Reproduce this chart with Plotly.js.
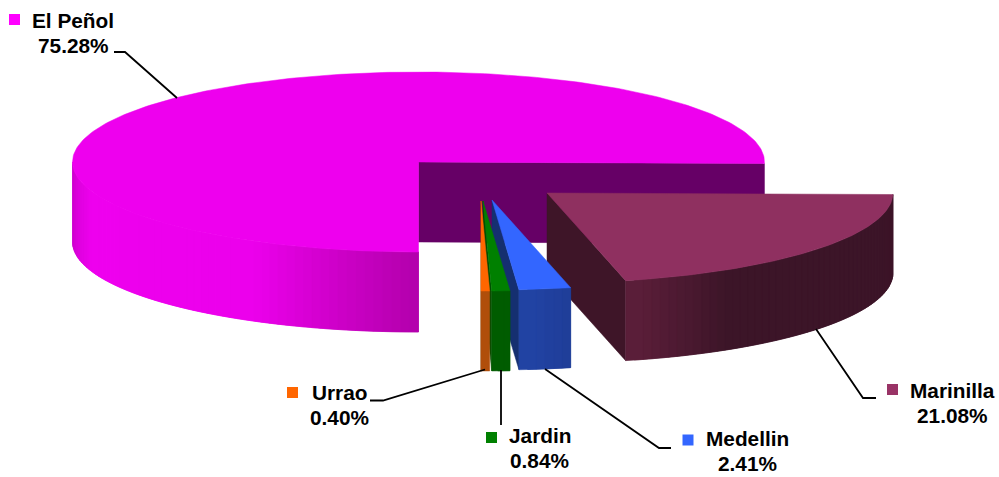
<!DOCTYPE html>
<html><head><meta charset="utf-8">
<script src="https://cdn.plot.ly/plotly-3.0.1.min.js"></script>
<style>html,body{margin:0;padding:0;background:#fff}#c{width:999px;height:477px}</style>
</head><body><div id="c"></div>
<script>
var labels = ["El Peñol", "Marinilla", "Medellin", "Jardin", "Urrao"];
var values = [75.28, 21.08, 2.41, 0.84, 0.40];
var topColors = ["#EE00EE", "#8F3060", "#3366FF", "#008000", "#FF6600"];
var keyColors = ["#FF00FF", "#993366", "#3366FF", "#008000", "#FF6600"];
var faceColors = ["#660066", "#3E1528", "#152F70", "#004A00", "#7A3800"];
// side shading: [clockwise degrees from east, r,g,b] stops
var sideStops = [
  [[90,[176,0,168]],[105,[205,0,200]],[120,[236,0,236]],[162,[238,0,238]],[180,[205,0,205]]],
  [[0,[60,21,40]],[60,[60,21,40]],[77,[92,30,58]]],
  [[77,[30,60,150]],[86,[34,68,165]]],
  [[85,[0,92,0]],[89,[0,92,0]]],
  [[88,[176,78,10]],[90,[176,78,10]]]
];
var centers = [[418.5,162],[547,193],[492,200],[483,201],[481,201]];
var RX = 346, RY = 90, DEPTH = 80;

// label layout
var keyPos = [[14.5,19.5],[892.5,389.5],[688,440],[491.5,437.5],[292.5,392.5]];
var textPos = [[73,20],[952.5,390],[747,438],[539.5,435],[339.5,392]];
var lineGap = 25;
var leaders = [
  [[114,52],[125,52],[177,98]],
  [[816,329],[863,398],[876,398]],
  [[545,369],[659,448],[671,448]],
  [[501,370],[501,425]],
  [[485,369.5],[383,400.5],[370,400.5]]
];

var DEG = Math.PI/180;
function pt(c,a,d){return [c[0]+RX*Math.cos(a*DEG), c[1]+RY*Math.sin(a*DEG)+(d||0)];}
function arc(c,a0,a1,d){var n=Math.max(2,Math.ceil(Math.abs(a1-a0)/1)),o=[];
  for(var i=0;i<=n;i++)o.push(pt(c,a0+(a1-a0)*i/n,d));return o;}
function shade(st,a){
  if(a<=st[0][0])return st[0][1];
  for(var i=1;i<st.length;i++)if(a<=st[i][0]){var t=(a-st[i-1][0])/(st[i][0]-st[i-1][0]);
    return st[i-1][1].map(function(v,k){return v+(st[i][1][k]-v)*t;});}
  return st[st.length-1][1];
}
function rgb(c){return "rgb("+c.map(Math.round).join(",")+")";}
function poly(points,color){
  return {type:"scatter",mode:"lines",x:points.map(function(p){return p[0];}).concat([points[0][0]]),
    y:points.map(function(p){return p[1];}).concat([points[0][1]]),fill:"toself",fillcolor:color,
    line:{color:color,width:0.5},hoverinfo:"skip",showlegend:false};
}
// outer wall built from thin overlapping strips so that no seams show
function wall(i,c,from,to){
  var step=(to-from)/Math.max(1,Math.ceil((to-from)/1.5));
  for(var s=from;s<to-1e-6;s+=step){
    var n=Math.min(to,s+step),b=Math.max(from,s-step);
    traces.push(poly(arc(c,b,n).concat(arc(c,n,b,DEPTH)),rgb(shade(sideStops[i],(s+n)/2))));
  }
}

// wedge angles: clockwise on screen, starting at the bottom of the pie
var total = values.reduce(function(a,b){return a+b;},0), cum = 90, spans = [];
values.forEach(function(v){var s=v/total*360;spans.push([cum,cum+s]);cum+=s;});

var traces = [];
function wedge(i){
  var c=centers[i],a0=spans[i][0],a1=spans[i][1];
  if(i===0){
    // back cut face, running from the centre to the east rim
    traces.push(poly([c,pt(c,a1),pt(c,a1,DEPTH),[c[0],c[1]+DEPTH]],faceColors[0]));
    wall(0,c,90,180);
  } else {
    var lo=a0%360, hi=lo+(a1-a0);
    traces.push(poly([c,pt(c,hi),pt(c,hi,DEPTH),[c[0],c[1]+DEPTH]],faceColors[i]));
    wall(i,c,lo,hi);
  }
  traces.push(poly([c].concat(arc(c,a0,a1)),topColors[i]));
}
[0,1,2,3,4].forEach(wedge);

leaders.forEach(function(l){
  traces.push({type:"scatter",mode:"lines",x:l.map(function(p){return p[0];}),y:l.map(function(p){return p[1];}),
    line:{color:"#000",width:1.8},hoverinfo:"skip",showlegend:false});
});
traces.push({type:"scatter",mode:"markers",x:keyPos.map(function(p){return p[0];}),y:keyPos.map(function(p){return p[1];}),
  marker:{symbol:"square",size:11,color:keyColors,line:{width:0}},text:labels,hoverinfo:"text",showlegend:false});

var font = {family:"Liberation Sans, Arial, sans-serif",size:20.8,color:"#000"};
var annotations = [];
labels.forEach(function(l,i){
  annotations.push({x:textPos[i][0],y:textPos[i][1],xref:"x",yref:"y",text:"<b>"+l+"</b>",
    showarrow:false,xanchor:"center",yanchor:"middle",font:font});
  annotations.push({x:textPos[i][0],y:textPos[i][1]+lineGap,xref:"x",yref:"y",text:"<b>"+values[i].toFixed(2)+"%</b>",
    showarrow:false,xanchor:"center",yanchor:"middle",font:font});
});

Plotly.newPlot("c",traces,{
  width:999,height:477,margin:{l:0,r:0,t:0,b:0},paper_bgcolor:"#fff",plot_bgcolor:"#fff",
  xaxis:{range:[0,999],visible:false,fixedrange:true},
  yaxis:{range:[477,0],visible:false,fixedrange:true},
  annotations:annotations,showlegend:false
},{displayModeBar:false,staticPlot:true});
</script></body></html>
